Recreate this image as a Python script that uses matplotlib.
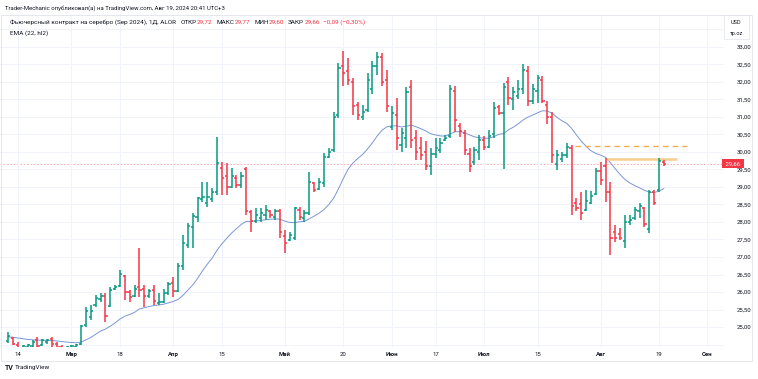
import matplotlib
matplotlib.use("Agg")
import matplotlib.pyplot as plt
import matplotlib.transforms as mtransforms
from matplotlib.patches import Rectangle
import pandas as pd

plt.rcParams['font.family'] = ['Roboto', 'DejaVu Sans']

# daily OHLC bars, index 0 = first bar at the left edge
opens = [24.60, 24.70, 24.50, 24.40, 24.42, 24.46, 24.64, 24.49, 24.56, 24.66,
         24.52, 24.44, 24.38, 24.41, 24.44, 24.52, 25.05, 25.30, 25.62, 25.80,
         25.90, 25.60, 26.08, 26.18, 26.45, 26.00, 25.90, 26.15, 26.08, 25.88,
         26.05, 25.68, 25.72, 25.98, 26.25, 26.02, 26.75, 27.35, 27.85, 28.15,
         28.65, 28.55, 28.65, 28.85, 29.53, 29.30, 29.00, 29.25, 29.05, 29.50,
         28.28, 28.02, 28.10, 28.20, 28.30, 28.15, 28.30, 27.60, 27.48, 27.55,
         28.35, 28.10, 28.25, 29.10, 28.95, 29.10, 29.85, 30.05, 31.05, 32.45,
         32.30, 32.00, 31.35, 31.00, 31.20, 31.80, 32.45, 32.70, 32.05, 30.70,
         31.05, 30.20, 30.40, 31.85, 30.40, 30.10, 30.00, 29.60, 29.95, 30.05,
         30.35, 30.45, 31.75, 30.75, 30.55, 29.95, 29.70, 30.00, 30.35, 30.15,
         30.50, 31.28, 31.10, 32.00, 31.50, 31.60, 31.80, 32.30, 31.45, 31.75,
         32.05, 31.35, 31.00, 29.65, 29.80, 29.90, 30.10, 28.55, 28.50, 28.35,
         28.55, 28.80, 29.45, 29.60, 28.85, 27.70, 27.65, 27.45, 28.00, 28.10,
         28.30, 28.40, 27.80, 28.85, 28.90, 29.72]
highs = [24.87, 24.72, 24.56, 24.49, 24.52, 24.62, 24.71, 24.66, 24.66, 24.71,
         24.57, 24.49, 24.46, 24.49, 24.52, 25.06, 25.58, 25.63, 25.91, 25.96,
         25.96, 26.15, 26.20, 26.63, 26.49, 26.06, 26.20, 27.27, 26.20, 26.10,
         26.20, 25.96, 26.10, 26.30, 26.44, 26.82, 27.63, 27.96, 28.25, 28.72,
         29.15, 29.15, 28.96, 30.42, 29.72, 29.68, 29.53, 29.34, 29.44, 29.58,
         28.34, 28.39, 28.39, 28.48, 28.34, 28.36, 28.36, 27.77, 27.72, 28.44,
         28.42, 28.34, 29.44, 29.15, 29.25, 29.96, 30.10, 31.15, 32.55, 32.87,
         32.68, 32.10, 31.44, 31.35, 32.25, 32.60, 32.85, 32.82, 32.34, 31.30,
         31.55, 30.68, 31.85, 32.06, 30.63, 30.44, 30.30, 30.11, 30.39, 30.39,
         30.49, 31.91, 31.87, 30.82, 30.63, 30.10, 30.15, 30.49, 30.45, 30.62,
         31.42, 31.34, 31.96, 32.15, 31.85, 32.06, 32.50, 32.45, 31.93, 32.20,
         32.18, 31.45, 31.15, 30.06, 30.01, 30.25, 30.20, 28.68, 28.87, 28.91,
         28.88, 29.53, 29.72, 29.82, 29.15, 27.91, 27.82, 28.20, 28.20, 28.44,
         28.53, 28.44, 28.91, 28.91, 29.82, 29.77]
lows = [24.53, 24.49, 24.36, 24.34, 24.39, 24.42, 24.41, 24.46, 24.52, 24.42,
        24.41, 24.34, 24.34, 24.38, 24.41, 24.50, 25.00, 25.20, 25.58, 25.72,
        25.15, 25.58, 26.06, 26.15, 25.77, 25.72, 25.87, 25.87, 25.58, 25.82,
        25.63, 25.63, 25.68, 25.91, 25.87, 26.00, 26.63, 27.25, 27.25, 28.01,
        28.58, 28.44, 28.58, 28.77, 28.77, 28.77, 28.96, 28.96, 28.96, 28.20,
        27.72, 27.96, 28.01, 28.06, 28.10, 28.06, 27.53, 27.12, 27.45, 27.49,
        28.06, 28.01, 28.20, 28.87, 28.91, 29.01, 29.82, 30.00, 30.96, 31.87,
        31.91, 31.06, 30.91, 30.90, 31.15, 31.65, 32.20, 31.87, 31.15, 30.63,
        30.06, 30.01, 30.10, 30.11, 29.77, 29.77, 29.49, 29.34, 29.82, 29.96,
        30.30, 30.39, 30.58, 30.44, 29.91, 29.44, 29.63, 29.77, 30.06, 30.10,
        30.40, 31.06, 29.50, 31.34, 31.20, 31.50, 31.65, 31.30, 31.38, 31.39,
        31.39, 30.80, 29.67, 29.49, 29.72, 29.82, 28.20, 28.30, 28.06, 28.30,
        28.50, 28.77, 29.06, 28.58, 27.06, 27.44, 27.49, 27.25, 27.91, 28.06,
        28.10, 27.87, 27.68, 28.48, 28.87, 29.60]
closes = [24.75, 24.52, 24.41, 24.46, 24.49, 24.57, 24.46, 24.62, 24.63, 24.52,
          24.44, 24.38, 24.42, 24.46, 24.49, 25.04, 25.45, 25.45, 25.82, 25.90,
          25.32, 26.05, 26.15, 26.52, 26.00, 25.85, 26.10, 26.05, 25.90, 26.03,
          25.75, 25.72, 25.98, 26.22, 26.02, 26.75, 27.40, 27.88, 28.17, 28.68,
          28.70, 28.72, 28.85, 29.68, 29.25, 29.00, 29.30, 29.05, 29.30, 28.30,
          28.02, 28.20, 28.25, 28.35, 28.20, 28.30, 27.70, 27.40, 27.62, 28.40,
          28.15, 28.25, 29.15, 28.92, 29.15, 29.85, 30.00, 31.00, 32.40, 32.25,
          32.05, 31.30, 31.05, 31.15, 32.05, 32.45, 32.70, 32.00, 31.30, 31.10,
          30.40, 30.55, 31.70, 30.35, 30.00, 29.90, 29.60, 29.95, 30.10, 30.25,
          30.40, 31.80, 30.90, 30.60, 30.05, 29.60, 30.05, 30.35, 30.15, 30.45,
          31.25, 31.12, 31.85, 31.55, 31.70, 31.80, 32.35, 31.45, 31.80, 32.10,
          31.45, 31.00, 29.90, 29.90, 29.90, 30.15, 28.45, 28.40, 28.25, 28.60,
          28.75, 29.45, 29.20, 28.85, 27.55, 27.55, 27.55, 28.00, 28.05, 28.35,
          28.45, 27.95, 28.85, 28.55, 29.75, 29.66]

ema_seed = 24.72          # EMA level at the left edge (history before first bar)
last_price = 29.66
dash_level = 30.18
dash_span = (116.7, 139.8)
solid_level = 29.80
solid_span = (123.3, 137.7)

tick_pos = [2, 13, 23, 34, 44, 57, 69, 79, 88, 98, 109, 122, 134, 144]
tick_lab = ["14", "Мар", "18", "Апр", "15", "Май", "20", "Июн", "17", "Июл",
            "15", "Авг", "19", "Сен"]
months = {"Мар", "Апр", "Май", "Июн", "Июл", "Авг", "Сен"}

GREEN = "#089981"
RED = "#f23645"
TXT = "#131722"
GRID = "#f0f3fa"

W, H = 758, 379
fig = plt.figure(figsize=(W / 100, H / 100), dpi=100)
fig.patch.set_facecolor("white")
# chart pane: x 0..724 px, y 15..347 px from top
ax = fig.add_axes([0 / W, 1 - 347 / H, 724 / W, (347 - 15) / H])

n = len(opens)
idx = list(range(n))
cols = [GREEN if c >= o else RED for o, c in zip(opens, closes)]

ax.vlines(idx, lows, highs, colors=cols, lw=1.1, zorder=3)
ax.hlines(opens, [i - 0.45 for i in idx], idx, colors=cols, lw=1.1, zorder=3)
ax.hlines(closes, idx, [i + 0.45 for i in idx], colors=cols, lw=1.1, zorder=3)

# EMA(22) of hl2
hl2 = [(h + l) / 2 for h, l in zip(highs, lows)]
ema = pd.Series([ema_seed] + hl2).ewm(span=22, adjust=False).mean().iloc[1:]
ax.plot(idx, ema.values, color="#7b96d4", lw=0.7, zorder=2)

# price line and drawn levels
ax.axhline(last_price, color=RED, lw=0.6, ls=(0, (2, 2)), alpha=0.45, zorder=1)
ax.hlines(dash_level, *dash_span, colors="#f2ad4e", lw=1.0,
          linestyles=(0, (4, 3)), zorder=2)
ax.hlines(solid_level, *solid_span, colors="#f7cf8f", lw=1.8, zorder=2)

ax.set_xlim(-1.7, 147.4)
ax.set_ylim(24.43, 33.91)

yt = [24.5 + 0.5 * k for k in range(19)]
ax.set_yticks(yt)
ax.set_yticklabels([("%.2f" % v).replace(".", ",") if 25 <= v <= 33 else "" for v in yt])
ax.yaxis.tick_right()
ax.tick_params(axis="y", length=0, pad=9, labelsize=4.3, labelcolor=TXT)
ax.set_xticks(tick_pos)
ax.set_xticklabels(tick_lab)
ax.tick_params(axis="x", length=0, pad=3.5, labelsize=4.3, labelcolor=TXT)
for lab in ax.get_xticklabels():
    if lab.get_text() in months:
        lab.set_fontweight("bold")
ax.grid(True, color=GRID, lw=0.7, zorder=0)
for s in ax.spines.values():
    s.set_visible(False)

# last price tag on the price scale
tr = mtransforms.blended_transform_factory(ax.transAxes, ax.transData)
ax.text(1.0, last_price, " 29,66 ", transform=tr, ha="left", va="center",
        fontsize=4.3, color="white", clip_on=False, zorder=5,
        bbox=dict(boxstyle="square,pad=0.35", fc=RED, ec="none"))

# outer frame of the chart
fig.add_artist(Rectangle((1 / W, 1 - 361 / H), 751 / W, 346 / H,
                         transform=fig.transFigure, fill=False,
                         ec="#e0e3eb", lw=0.6))
fig.add_artist(Rectangle((724 / W, 1 - 39 / H), 25 / W, 24 / H,
                         transform=fig.transFigure, fill=False,
                         ec="#e0e3eb", lw=0.5))
fig.text(736 / W, 1 - 22 / H, "USD", fontsize=4.0, color=TXT, ha="center", va="center")
fig.text(736 / W, 1 - 33 / H, "тр.oz", fontsize=4.0, color=TXT, ha="center", va="center")

fig.text(5 / W, 1 - 8 / H, "Trader-Mechanic опубликовал(а) на TradingView.com, Авг 19, 2024 20:41 UTC+3",
         fontsize=4.3, color=TXT, va="center")

renderer = fig.canvas.get_renderer()


def put_seq(parts, x, y):
    for s, c, gap in parts:
        t = fig.text(x, y, s, fontsize=4.6, color=c, va="center",
                     transform=None)
        x = t.get_window_extent(renderer).x1 + gap


put_seq([("Фьючерсный контракт на серебро (Sep 2024), 1Д, ALOR", TXT, 5),
         ("ОТКР", TXT, 0), ("29,72", RED, 4),
         ("МАКС", TXT, 0), ("29,77", RED, 4),
         ("МИН", TXT, 0), ("29,60", RED, 4),
         ("ЗАКР", TXT, 0), ("29,66", RED, 3),
         ("−0,09 (−0,30%)", RED, 0)], 10, H - 22)
fig.text(10 / W, 1 - 33 / H, "EMA (22, hl2)", fontsize=4.6, color=TXT, va="center")

fig.text(5 / W, 1 - 368 / H, "TV", fontsize=5, fontweight="bold", color=TXT, va="center")
fig.text(15 / W, 1 - 368 / H, "TradingView", fontsize=4.6, color=TXT, va="center")

fig.savefig("out.png", dpi=100)
